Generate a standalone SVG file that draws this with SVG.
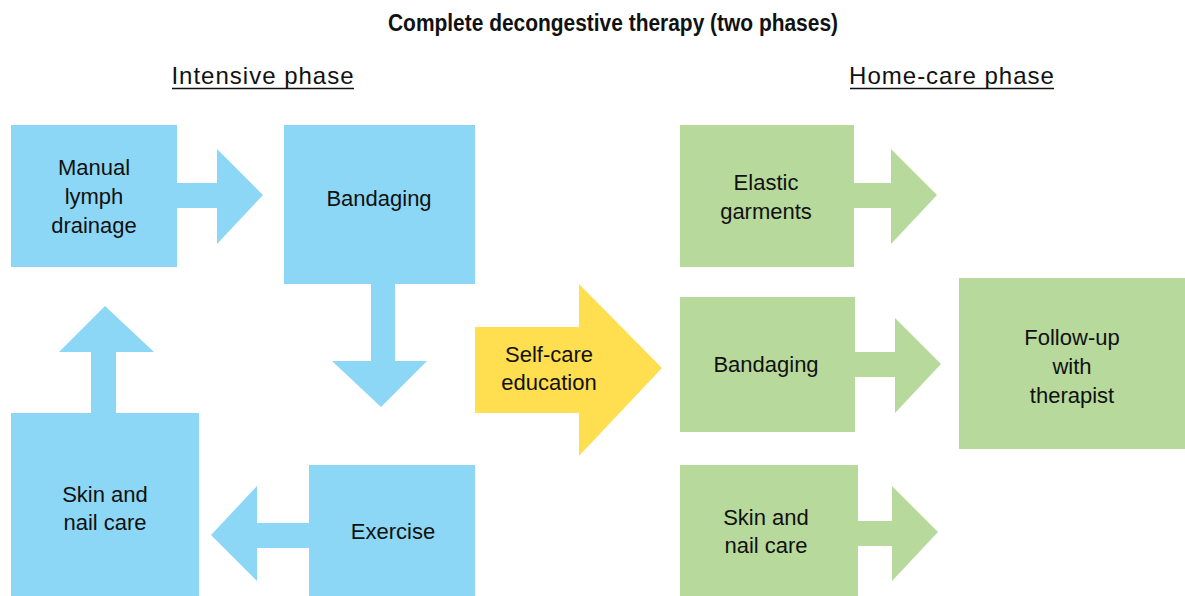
<svg xmlns="http://www.w3.org/2000/svg" width="1185" height="596" viewBox="0 0 1185 596">
<style>
.blue{fill:#8DD7F6}
.green{fill:#B7DA9C}
.yellow{fill:#FFDE50}
.t{font-family:"Liberation Sans",Arial,sans-serif;font-size:22px;fill:#111;text-anchor:middle}
.h{font-family:"Liberation Sans",Arial,sans-serif;font-size:24px;fill:#111;text-anchor:middle;letter-spacing:1px}
.title{font-family:"Liberation Sans",Arial,sans-serif;font-size:23px;font-weight:bold;fill:#111;text-anchor:middle}
.ul{stroke:#111;stroke-width:1.5}
</style>
<rect width="1185" height="596" fill="#fff"/>
<text class="title" x="613" y="31" textLength="450" lengthAdjust="spacingAndGlyphs">Complete decongestive therapy (two phases)</text>
<text class="h" x="263" y="84">Intensive phase</text>
<line class="ul" x1="172" y1="88.5" x2="354" y2="88.5"/>
<text class="h" x="952" y="84">Home-care phase</text>
<line class="ul" x1="850" y1="88.5" x2="1054" y2="88.5"/>
<g id="connectors">
<polygon class="blue" points="177,183 217,183 217,149 263,195 217,244 217,208 177,208"/>
<polygon class="blue" points="371,284 395,284 395,361 427,361 381,407 332,361 371,361"/>
<polygon class="blue" points="309,523 257,523 257,486 211,535 257,581 257,548 309,548"/>
<polygon class="blue" points="91,413 91,352 59,352 105,306 154,352 116,352 116,413"/>
<polygon class="green" points="854,183 891,183 891,149 937,195 891,244 891,208 854,208"/>
<polygon class="green" points="855,352 895,352 895,318 941,364 895,413 895,377 855,377"/>
<polygon class="green" points="858,521 892,521 892,486 938,532 892,581 892,546 858,546"/>
</g>
<g id="manual">
<rect class="blue" x="11" y="125" width="166" height="142"/>
<text class="t" x="94" y="175">Manual</text>
<text class="t" x="94" y="204">lymph</text>
<text class="t" x="94" y="233">drainage</text>
</g>
<g id="bandaging1">
<rect class="blue" x="284" y="125" width="191" height="159"/>
<text class="t" x="379" y="206">Bandaging</text>
</g>
<g id="skin1">
<rect class="blue" x="11" y="413" width="188" height="183"/>
<text class="t" x="105" y="502">Skin and</text>
<text class="t" x="105" y="530">nail care</text>
</g>
<g id="exercise">
<rect class="blue" x="309" y="465" width="166" height="131"/>
<text class="t" x="393" y="539">Exercise</text>
</g>
<g id="selfcare">
<polygon class="yellow" points="475,327 579,327 579,284 662,368 579,456 579,413 475,413"/>
<text class="t" x="549" y="362">Self-care</text>
<text class="t" x="549" y="390">education</text>
</g>
<g id="elastic">
<rect class="green" x="680" y="125" width="174" height="142"/>
<text class="t" x="766" y="190">Elastic</text>
<text class="t" x="766" y="219">garments</text>
</g>
<g id="bandaging2">
<rect class="green" x="680" y="297" width="175" height="135"/>
<text class="t" x="766" y="372">Bandaging</text>
</g>
<g id="skin2">
<rect class="green" x="680" y="465" width="178" height="131"/>
<text class="t" x="766" y="525">Skin and</text>
<text class="t" x="766" y="553">nail care</text>
</g>
<g id="followup">
<rect class="green" x="959" y="278" width="226" height="171"/>
<text class="t" x="1072" y="345">Follow-up</text>
<text class="t" x="1072" y="374">with</text>
<text class="t" x="1072" y="403">therapist</text>
</g>
</svg>
